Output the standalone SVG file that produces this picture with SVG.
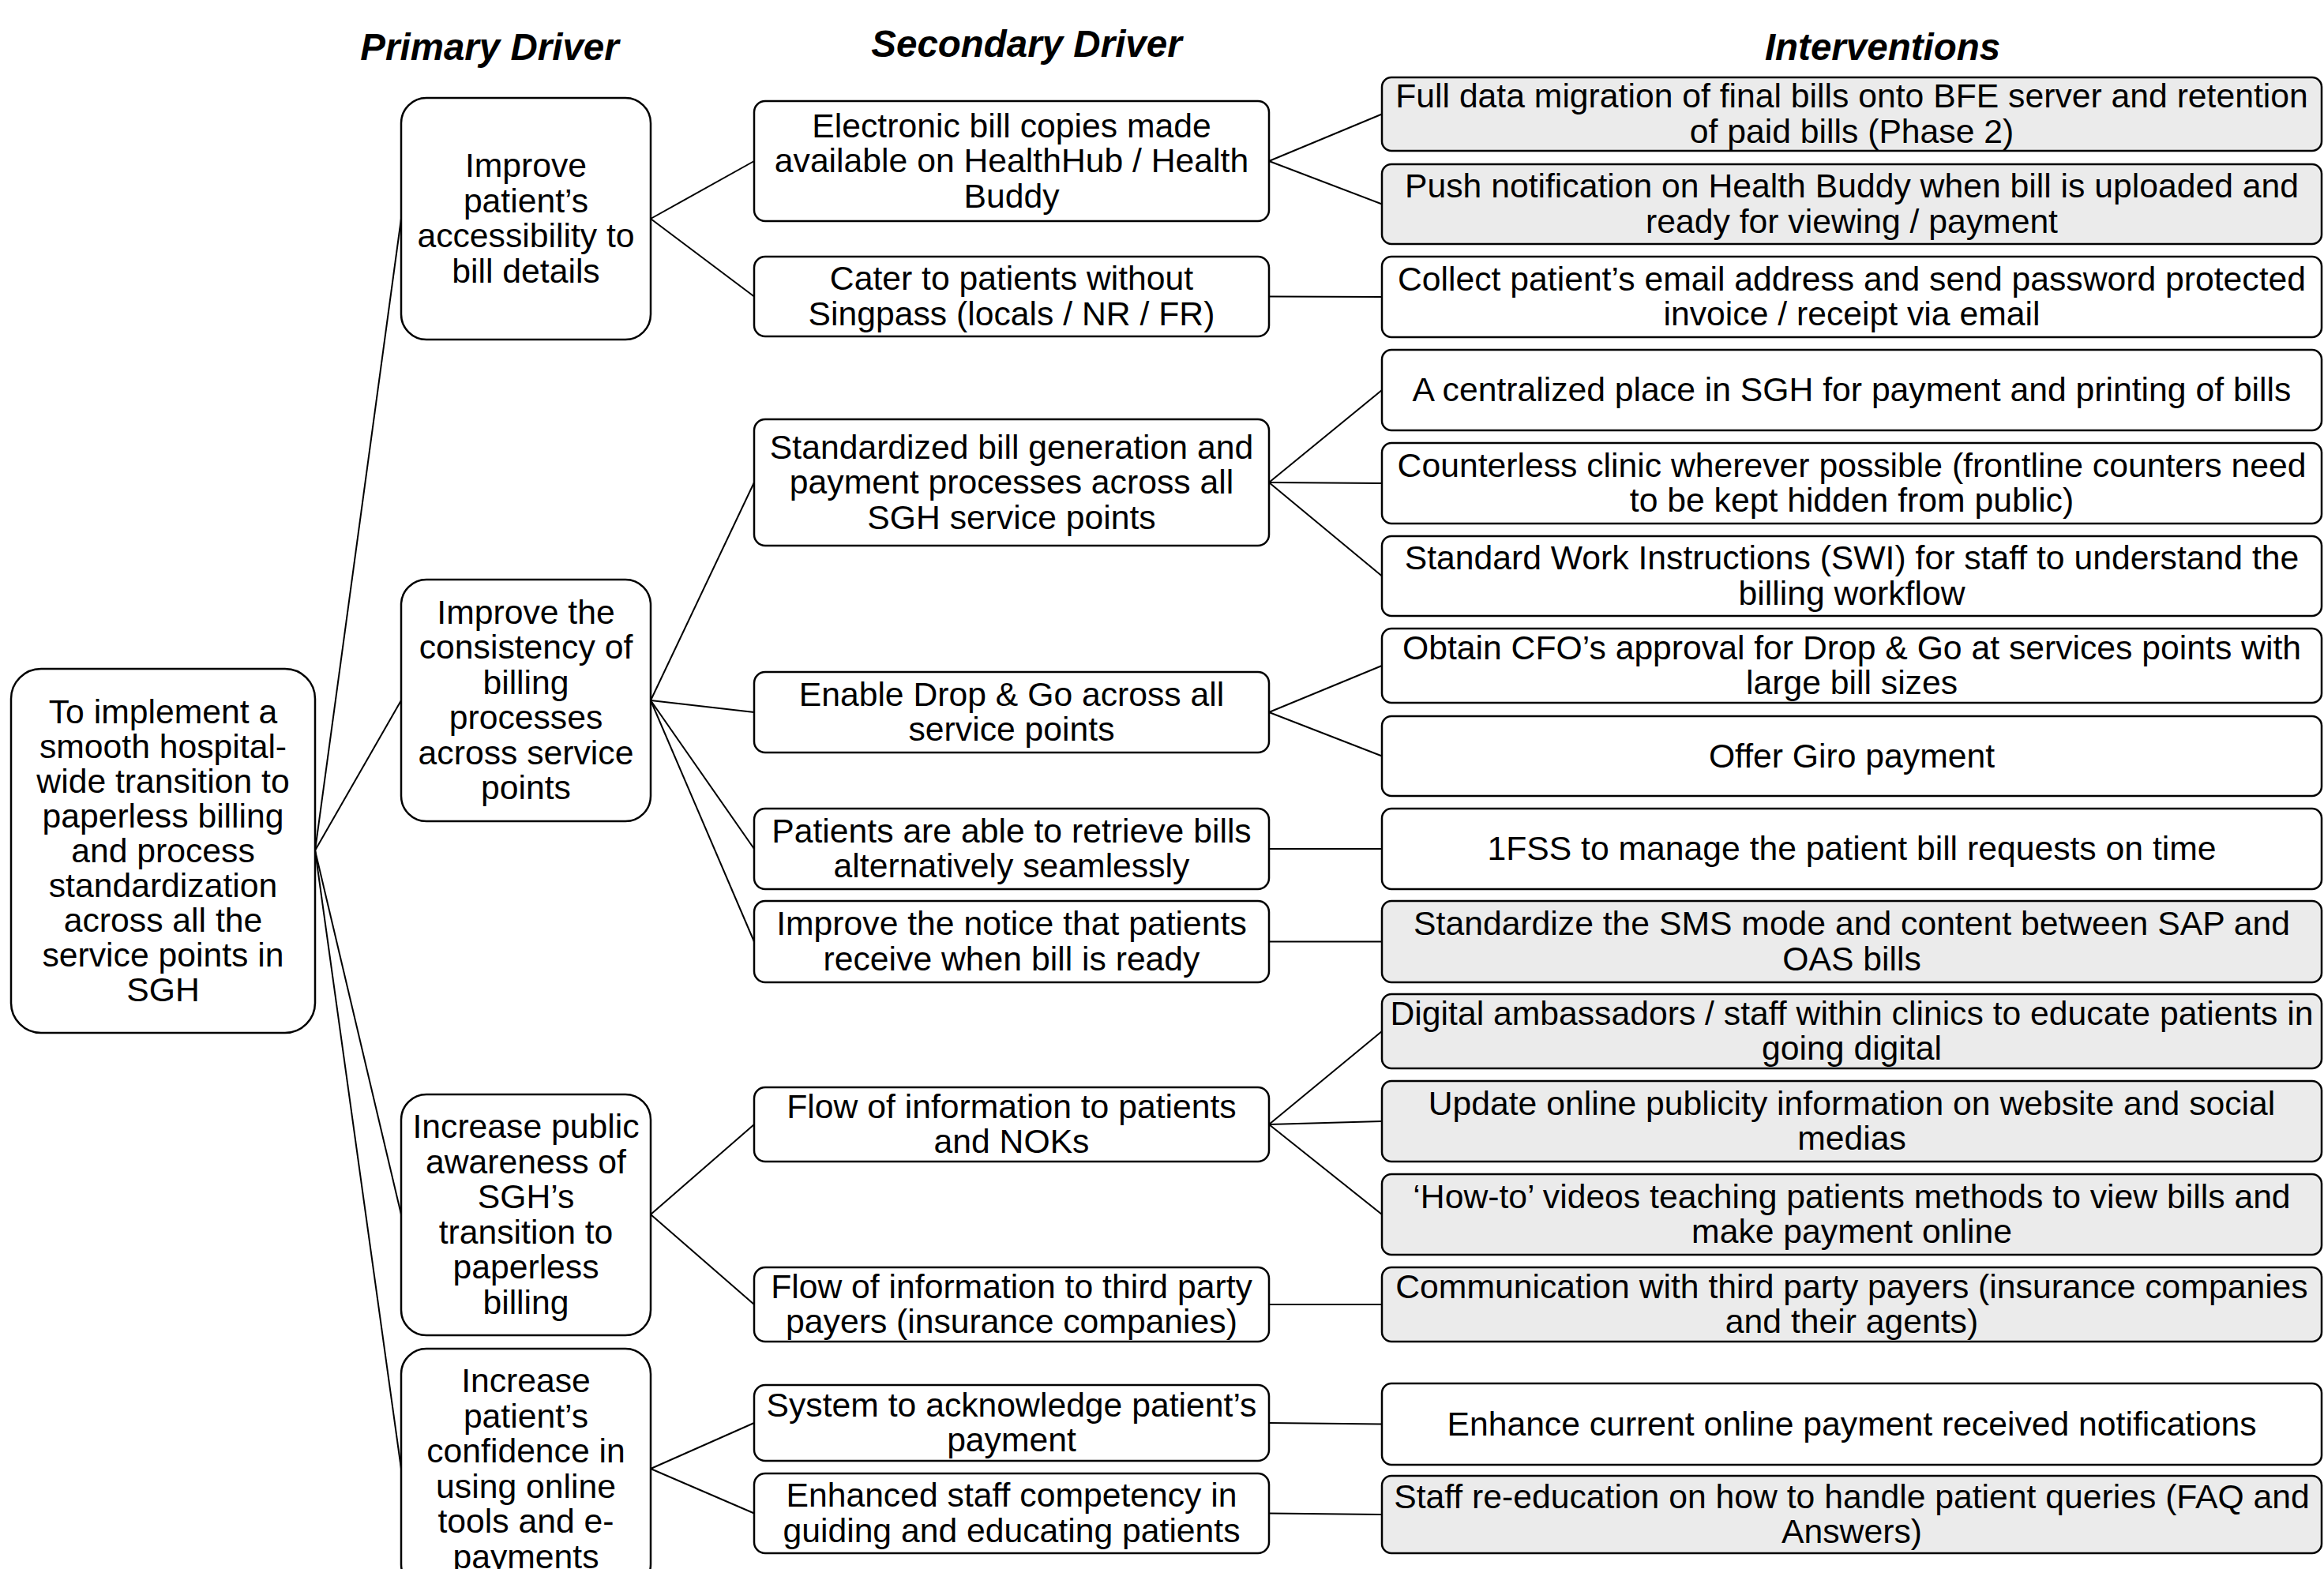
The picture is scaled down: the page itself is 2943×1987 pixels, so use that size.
<svg xmlns="http://www.w3.org/2000/svg" width="2943" height="1987" viewBox="0 0 2943 1987">
<style>
.bg{fill:#ffffff}
.box{fill:#ffffff;stroke:#000000;stroke-width:2.5}
.grey{fill:#ebebeb}
.t{font-family:"Liberation Sans",Arial,sans-serif;font-size:42.7px;fill:#000000;text-anchor:middle}
.h{font-family:"Liberation Sans",Arial,sans-serif;font-size:47.5px;font-weight:bold;font-style:italic;fill:#000000;text-anchor:middle}
.c line{stroke:#000000;stroke-width:2}
</style>
<rect class="bg" x="0" y="0" width="2943" height="1987"/>

<g id="headers">
<text class="h" x="620" y="76">Primary Driver</text>
<text class="h" x="1300" y="72">Secondary Driver</text>
<text class="h" x="2384" y="76">Interventions</text>
</g>

<g id="connectors" class="c">
<!-- root to primary -->
<line x1="399" y1="1077" x2="508" y2="277"/>
<line x1="399" y1="1077" x2="508" y2="887"/>
<line x1="399" y1="1077" x2="508" y2="1538"/>
<line x1="399" y1="1077" x2="508" y2="1860"/>
<!-- primary to secondary -->
<line x1="824" y1="277" x2="955" y2="204"/>
<line x1="824" y1="277" x2="955" y2="375.5"/>
<line x1="824" y1="887" x2="955" y2="611"/>
<line x1="824" y1="887" x2="955" y2="902"/>
<line x1="824" y1="887" x2="955" y2="1075"/>
<line x1="824" y1="887" x2="955" y2="1192.5"/>
<line x1="824" y1="1538" x2="955" y2="1424"/>
<line x1="824" y1="1538" x2="955" y2="1652"/>
<line x1="824" y1="1860" x2="955" y2="1802"/>
<line x1="824" y1="1860" x2="955" y2="1916.5"/>
<!-- secondary to interventions -->
<line x1="1607" y1="204" x2="1750" y2="144.5"/>
<line x1="1607" y1="204" x2="1750" y2="258.5"/>
<line x1="1607" y1="375.5" x2="1750" y2="376"/>
<line x1="1607" y1="611" x2="1750" y2="494"/>
<line x1="1607" y1="611" x2="1750" y2="612"/>
<line x1="1607" y1="611" x2="1750" y2="729.5"/>
<line x1="1607" y1="902" x2="1750" y2="843"/>
<line x1="1607" y1="902" x2="1750" y2="957.5"/>
<line x1="1607" y1="1075" x2="1750" y2="1075"/>
<line x1="1607" y1="1192.5" x2="1750" y2="1192.5"/>
<line x1="1607" y1="1424" x2="1750" y2="1306"/>
<line x1="1607" y1="1424" x2="1750" y2="1420"/>
<line x1="1607" y1="1424" x2="1750" y2="1538"/>
<line x1="1607" y1="1652" x2="1750" y2="1652"/>
<line x1="1607" y1="1802" x2="1750" y2="1803.5"/>
<line x1="1607" y1="1916.5" x2="1750" y2="1918"/>
</g>

<g id="root">
<rect class="box" x="14" y="847" width="385" height="461" rx="38"/>
<text class="t"><tspan x="206.5" y="915.5">To implement a</tspan><tspan x="206.5" y="959.5">smooth hospital-</tspan><tspan x="206.5" y="1003.5">wide transition to</tspan><tspan x="206.5" y="1047.5">paperless billing</tspan><tspan x="206.5" y="1091.5">and process</tspan><tspan x="206.5" y="1135.5">standardization</tspan><tspan x="206.5" y="1179.5">across all the</tspan><tspan x="206.5" y="1223.5">service points in</tspan><tspan x="206.5" y="1267.5">SGH</tspan></text>
</g>

<g id="p1">
<rect class="box" x="508" y="124" width="316" height="306" rx="32"/>
<text class="t"><tspan x="666" y="224.25">Improve</tspan><tspan x="666" y="268.75">patient’s</tspan><tspan x="666" y="313.25">accessibility to</tspan><tspan x="666" y="357.75">bill details</tspan></text>
</g>
<g id="p2">
<rect class="box" x="508" y="734" width="316" height="306" rx="32"/>
<text class="t"><tspan x="666" y="789.75">Improve the</tspan><tspan x="666" y="834.25">consistency of</tspan><tspan x="666" y="878.75">billing</tspan><tspan x="666" y="923.25">processes</tspan><tspan x="666" y="967.75">across service</tspan><tspan x="666" y="1012.25">points</tspan></text>
</g>
<g id="p3">
<rect class="box" x="508" y="1386" width="316" height="305" rx="32"/>
<text class="t"><tspan x="666" y="1441.25">Increase public</tspan><tspan x="666" y="1485.75">awareness of</tspan><tspan x="666" y="1530.25">SGH’s</tspan><tspan x="666" y="1574.75">transition to</tspan><tspan x="666" y="1619.25">paperless</tspan><tspan x="666" y="1663.75">billing</tspan></text>
</g>
<g id="p4">
<rect class="box" x="508" y="1708" width="316" height="305" rx="32"/>
<text class="t"><tspan x="666" y="1763.25">Increase</tspan><tspan x="666" y="1807.75">patient’s</tspan><tspan x="666" y="1852.25">confidence in</tspan><tspan x="666" y="1896.75">using online</tspan><tspan x="666" y="1941.25">tools and e-</tspan><tspan x="666" y="1985.75">payments</tspan></text>
</g>

<g id="s1">
<rect class="box" x="955" y="128" width="652" height="152" rx="14"/>
<text class="t"><tspan x="1281" y="173.5">Electronic bill copies made</tspan><tspan x="1281" y="218">available on HealthHub / Health</tspan><tspan x="1281" y="262.5">Buddy</tspan></text>
</g>
<g id="s2">
<rect class="box" x="955" y="325" width="652" height="101" rx="14"/>
<text class="t"><tspan x="1281" y="367.25">Cater to patients without</tspan><tspan x="1281" y="411.75">Singpass (locals / NR / FR)</tspan></text>
</g>
<g id="s3">
<rect class="box" x="955" y="531" width="652" height="160" rx="14"/>
<text class="t"><tspan x="1281" y="580.5">Standardized bill generation and</tspan><tspan x="1281" y="625">payment processes across all</tspan><tspan x="1281" y="669.5">SGH service points</tspan></text>
</g>
<g id="s4">
<rect class="box" x="955" y="851" width="652" height="102" rx="14"/>
<text class="t"><tspan x="1281" y="893.75">Enable Drop &amp; Go across all</tspan><tspan x="1281" y="938.25">service points</tspan></text>
</g>
<g id="s5">
<rect class="box" x="955" y="1024" width="652" height="102" rx="14"/>
<text class="t"><tspan x="1281" y="1066.75">Patients are able to retrieve bills</tspan><tspan x="1281" y="1111.25">alternatively seamlessly</tspan></text>
</g>
<g id="s6">
<rect class="box" x="955" y="1141" width="652" height="103" rx="14"/>
<text class="t"><tspan x="1281" y="1184.25">Improve the notice that patients</tspan><tspan x="1281" y="1228.75">receive when bill is ready</tspan></text>
</g>
<g id="s7">
<rect class="box" x="955" y="1377" width="652" height="94" rx="14"/>
<text class="t"><tspan x="1281" y="1415.75">Flow of information to patients</tspan><tspan x="1281" y="1460.25">and NOKs</tspan></text>
</g>
<g id="s8">
<rect class="box" x="955" y="1605" width="652" height="94" rx="14"/>
<text class="t"><tspan x="1281" y="1643.75">Flow of information to third party</tspan><tspan x="1281" y="1688.25">payers (insurance companies)</tspan></text>
</g>
<g id="s9">
<rect class="box" x="955" y="1754" width="652" height="96" rx="14"/>
<text class="t"><tspan x="1281" y="1793.75">System to acknowledge patient’s</tspan><tspan x="1281" y="1838.25">payment</tspan></text>
</g>
<g id="s10">
<rect class="box" x="955" y="1866" width="652" height="101" rx="14"/>
<text class="t"><tspan x="1281" y="1908.25">Enhanced staff competency in</tspan><tspan x="1281" y="1952.75">guiding and educating patients</tspan></text>
</g>

<g id="i1">
<rect class="box grey" x="1750" y="98" width="1190" height="93" rx="12"/>
<text class="t"><tspan x="2345" y="136.25">Full data migration of final bills onto BFE server and retention</tspan><tspan x="2345" y="180.75">of paid bills (Phase 2)</tspan></text>
</g>
<g id="i2">
<rect class="box grey" x="1750" y="208" width="1190" height="101" rx="12"/>
<text class="t"><tspan x="2345" y="250.25">Push notification on Health Buddy when bill is uploaded and</tspan><tspan x="2345" y="294.75">ready for viewing / payment</tspan></text>
</g>
<g id="i3">
<rect class="box" x="1750" y="325" width="1190" height="102" rx="12"/>
<text class="t"><tspan x="2345" y="367.75">Collect patient’s email address and send password protected</tspan><tspan x="2345" y="412.25">invoice / receipt via email</tspan></text>
</g>
<g id="i4">
<rect class="box" x="1750" y="443" width="1190" height="102" rx="12"/>
<text class="t" x="2345" y="508">A centralized place in SGH for payment and printing of bills</text>
</g>
<g id="i5">
<rect class="box" x="1750" y="561" width="1190" height="102" rx="12"/>
<text class="t"><tspan x="2345" y="603.75">Counterless clinic wherever possible (frontline counters need</tspan><tspan x="2345" y="648.25">to be kept hidden from public)</tspan></text>
</g>
<g id="i6">
<rect class="box" x="1750" y="679" width="1190" height="101" rx="12"/>
<text class="t"><tspan x="2345" y="721.25">Standard Work Instructions (SWI) for staff to understand the</tspan><tspan x="2345" y="765.75">billing workflow</tspan></text>
</g>
<g id="i7">
<rect class="box" x="1750" y="796" width="1190" height="94" rx="12"/>
<text class="t"><tspan x="2345" y="834.75">Obtain CFO’s approval for Drop &amp; Go at services points with</tspan><tspan x="2345" y="879.25">large bill sizes</tspan></text>
</g>
<g id="i8">
<rect class="box" x="1750" y="907" width="1190" height="101" rx="12"/>
<text class="t" x="2345" y="971.5">Offer Giro payment</text>
</g>
<g id="i9">
<rect class="box" x="1750" y="1024" width="1190" height="102" rx="12"/>
<text class="t" x="2345" y="1089">1FSS to manage the patient bill requests on time</text>
</g>
<g id="i10">
<rect class="box grey" x="1750" y="1141" width="1190" height="103" rx="12"/>
<text class="t"><tspan x="2345" y="1184.25">Standardize the SMS mode and content between SAP and</tspan><tspan x="2345" y="1228.75">OAS bills</tspan></text>
</g>
<g id="i11">
<rect class="box grey" x="1750" y="1259" width="1190" height="94" rx="12"/>
<text class="t"><tspan x="2345" y="1297.75">Digital ambassadors / staff within clinics to educate patients in</tspan><tspan x="2345" y="1342.25">going digital</tspan></text>
</g>
<g id="i12">
<rect class="box grey" x="1750" y="1369" width="1190" height="102" rx="12"/>
<text class="t"><tspan x="2345" y="1411.75">Update online publicity information on website and social</tspan><tspan x="2345" y="1456.25">medias</tspan></text>
</g>
<g id="i13">
<rect class="box grey" x="1750" y="1487" width="1190" height="102" rx="12"/>
<text class="t"><tspan x="2345" y="1529.75">‘How-to’ videos teaching patients methods to view bills and</tspan><tspan x="2345" y="1574.25">make payment online</tspan></text>
</g>
<g id="i14">
<rect class="box grey" x="1750" y="1605" width="1190" height="94" rx="12"/>
<text class="t"><tspan x="2345" y="1643.75">Communication with third party payers (insurance companies</tspan><tspan x="2345" y="1688.25">and their agents)</tspan></text>
</g>
<g id="i15">
<rect class="box" x="1750" y="1752" width="1190" height="103" rx="12"/>
<text class="t" x="2345" y="1817.5">Enhance current online payment received notifications</text>
</g>
<g id="i16">
<rect class="box grey" x="1750" y="1869" width="1190" height="98" rx="12"/>
<text class="t"><tspan x="2345" y="1909.75">Staff re-education on how to handle patient queries (FAQ and</tspan><tspan x="2345" y="1954.25">Answers)</tspan></text>
</g>
</svg>
